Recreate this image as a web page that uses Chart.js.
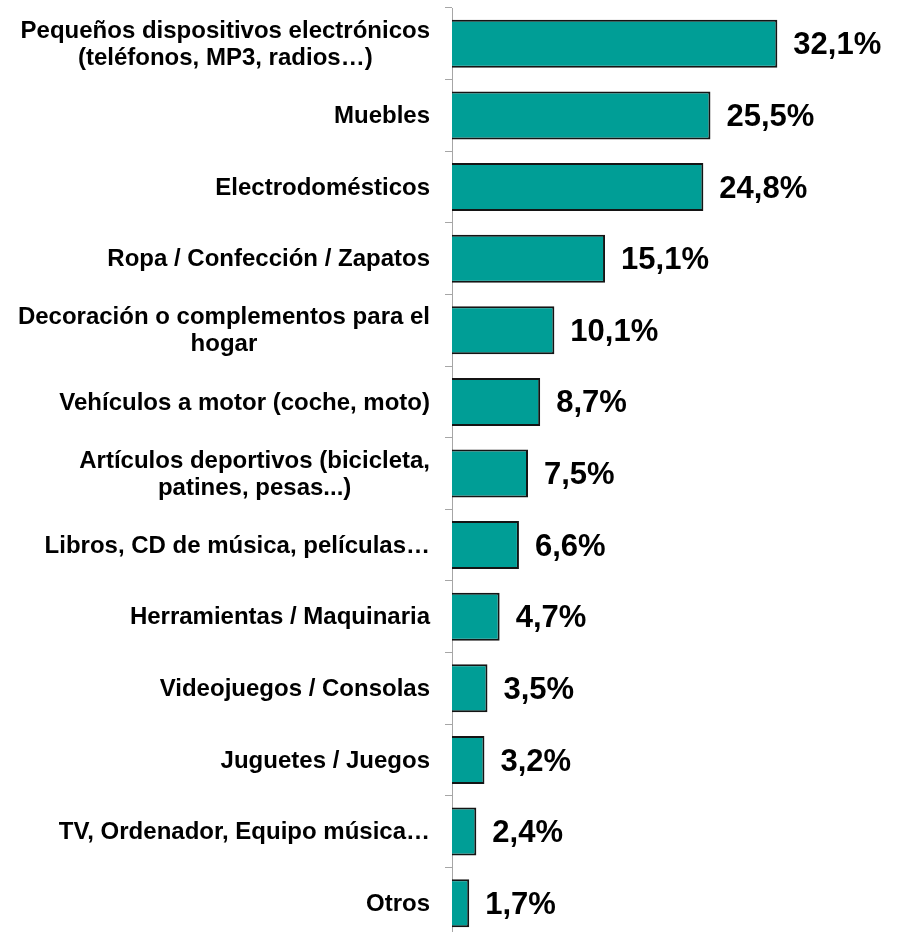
<!DOCTYPE html>
<html lang="es">
<head>
<meta charset="utf-8">
<title>Productos</title>
<script src="https://cdn.jsdelivr.net/npm/chart.js@4.4.1/dist/chart.umd.min.js"></script>
<style>
  html, body { margin: 0; padding: 0; background: #fff; overflow: hidden; }
  #wrap { width: 901px; height: 946px; position: relative; }
</style>
</head>
<body>
<div id="wrap"><canvas id="grafico"></canvas></div>
<script>
// datos
const categorias = [
    ['Pequeños dispositivos electrónicos', '(teléfonos, MP3, radios…)'],
    ['Muebles'],
    ['Electrodomésticos'],
    ['Ropa / Confección / Zapatos'],
    ['Decoración o complementos para el', 'hogar'],
    ['Vehículos a motor (coche, moto)'],
    ['Artículos deportivos (bicicleta,', 'patines, pesas...)'],
    ['Libros, CD de música, películas…'],
    ['Herramientas / Maquinaria'],
    ['Videojuegos / Consolas'],
    ['Juguetes / Juegos'],
    ['TV, Ordenador, Equipo música…'],
    ['Otros']
];
const porcentajes = [32.1, 25.5, 24.8, 15.1, 10.1, 8.7, 7.5, 6.6, 4.7, 3.5, 3.2, 2.4, 1.7];

const FUENTE = '"Liberation Sans", Arial, sans-serif';
const ANCHO_EJE = 452;

// dibuja etiquetas de categorías (centradas por bloque, alineadas a la derecha) y valores
const etiquetasPlugin = {
    id: 'etiquetas',
    afterDraw(chart) {
        const ctx = chart.ctx;
        const ejeY = chart.scales.y;
        ctx.save();
        ctx.fillStyle = '#000';
        ctx.textBaseline = 'middle';

        ctx.font = 'bold 24px ' + FUENTE;
        ctx.textAlign = 'center';
        const derecha = ANCHO_EJE - 22;
        const alto = 27;
        categorias.forEach((lineas, i) => {
            const w = Math.max(...lineas.map(l => ctx.measureText(l).width));
            const cx = derecha - w / 2;
            const cy = ejeY.getPixelForTick(i) + 1;
            lineas.forEach((l, j) => {
                ctx.fillText(l, cx, cy + (j - (lineas.length - 1) / 2) * alto);
            });
        });

        ctx.font = 'bold 31px ' + FUENTE;
        ctx.textAlign = 'left';
        chart.getDatasetMeta(0).data.forEach((barra, i) => {
            const txt = porcentajes[i].toFixed(1).replace('.', ',') + '%';
            ctx.fillText(txt, barra.x + 16, barra.y + 2);
        });
        ctx.restore();
    }
};

new Chart(document.getElementById('grafico').getContext('2d'), {
    type: 'bar',
    data: {
        labels: categorias,
        datasets: [{
            data: porcentajes,
            backgroundColor: '#009E96',
            borderColor: '#141414',
            borderWidth: 2,
            barPercentage: 0.67,
            categoryPercentage: 1
        }]
    },
    options: {
        indexAxis: 'y',
        responsive: true,
        maintainAspectRatio: false,
        animation: false,
        layout: { padding: { top: 8, bottom: 7, left: 0, right: 0 } },
        plugins: { legend: { display: false }, tooltip: { enabled: false } },
        scales: {
            x: { display: false, min: 0, max: 44.3 },
            y: {
                afterFit: (s) => { s.width = ANCHO_EJE; },
                ticks: { display: false },
                grid: { drawOnChartArea: false, drawTicks: true, tickLength: 7, color: '#a6a6a6', offset: true },
                border: { display: true, color: '#a6a6a6', width: 1 }
            }
        }
    },
    plugins: [etiquetasPlugin]
});
</script>
</body>
</html>
